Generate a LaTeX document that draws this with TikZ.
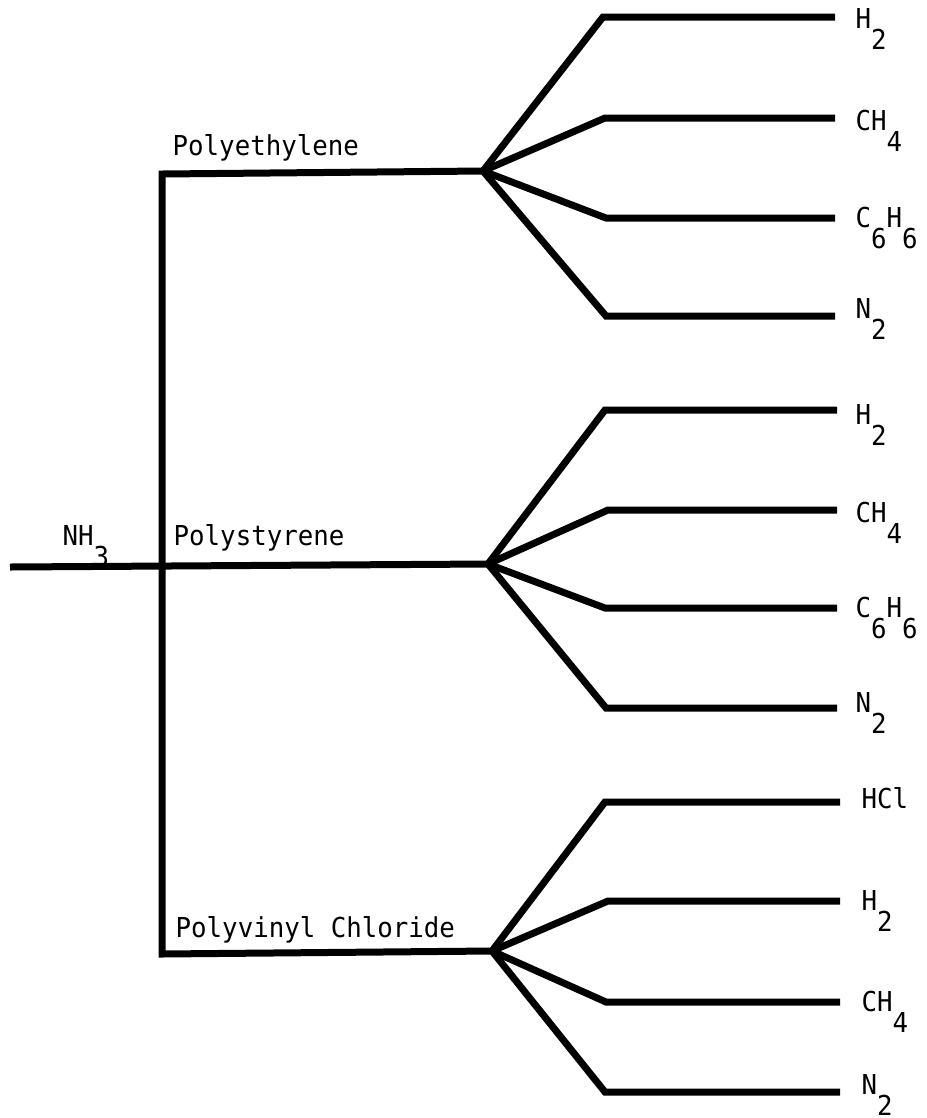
\documentclass[tikz,border=0pt]{standalone}
\usepackage{fontspec}
\setmonofont[FakeStretch=0.94]{DejaVu Sans Mono}
\usepackage{tikz}
\usetikzlibrary{positioning}

% typed subscript: full size digit set well below the line
\newcommand{\subnum}[1]{\raisebox{-2.1mm}{#1}}

\begin{document}
\begin{tikzpicture}[
      x=0.1mm, y=-0.1mm,
      line/.style={line width=0.7mm, black},
      lbl/.style={font=\ttfamily\fontsize{7.8}{9}\selectfont, inner sep=0pt, anchor=base west},
      gas/.style={lbl},
    ]
      \useasboundingbox (0,0) rectangle (927,1118);

      % trunk and the three polymer branches
      \coordinate (src) at (10,567);
      \coordinate (top) at (162,174);
      \coordinate (bot) at (162,954);
      \coordinate (pe)  at (483,171);
      \coordinate (ps)  at (488,564);
      \coordinate (pvc) at (492,951);

      \node[lbl] (nh3)  at (62,545)  {NH\subnum{3}};
      \node[lbl] (lpe)  at (172,155) {Polyethylene};
      \node[lbl] (lps)  at (173,545) {Polystyrene};
      \node[lbl] (lpvc) at (175,937) {Polyvinyl Chloride};

      % polyethylene products
      \coordinate (k11) at (603,17);   \coordinate (e11) at (835,17);
      \coordinate (k12) at (605,118);  \coordinate (e12) at (835,118);
      \coordinate (k13) at (606,218);  \coordinate (e13) at (835,218);
      \coordinate (k14) at (606,316);  \coordinate (e14) at (835,316);

      % polystyrene products
      \coordinate (k21) at (605,410);  \coordinate (e21) at (837,410);
      \coordinate (k22) at (608,510);  \coordinate (e22) at (837,510);
      \coordinate (k23) at (605,608);  \coordinate (e23) at (837,608);
      \coordinate (k24) at (606,708);  \coordinate (e24) at (837,708);

      % polyvinyl chloride products
      \coordinate (k31) at (605,802);  \coordinate (e31) at (840,802);
      \coordinate (k32) at (608,901);  \coordinate (e32) at (840,901);
      \coordinate (k33) at (606,1002); \coordinate (e33) at (840,1002);
      \coordinate (k34) at (605,1092); \coordinate (e34) at (840,1092);

      \node[gas] (g11) at ([xshift=2mm, yshift=-1.1mm]e11) {H\subnum{2}};
      \node[gas] (g12) at ([xshift=2mm, yshift=-1.2mm]e12) {CH\subnum{4}};
      \node[gas] (g13) at ([xshift=2mm, yshift=-0.9mm]e13) {C\subnum{6}H\subnum{6}};
      \node[gas] (g14) at ([xshift=2mm, yshift=-0.2mm]e14) {N\subnum{2}};

      \node[gas] (g21) at ([xshift=1.8mm, yshift=-1.4mm]e21) {H\subnum{2}};
      \node[gas] (g22) at ([xshift=1.8mm, yshift=-1.2mm]e22) {CH\subnum{4}};
      \node[gas] (g23) at ([xshift=1.8mm, yshift=-0.9mm]e23) {C\subnum{6}H\subnum{6}};
      \node[gas] (g24) at ([xshift=1.8mm, yshift=-0.4mm]e24) {N\subnum{2}};

      \node[gas] (g31) at ([xshift=2.1mm, yshift=-0.6mm]e31) {HCl};
      \node[gas] (g32) at ([xshift=2.1mm, yshift=-0.9mm]e32) {H\subnum{2}};
      \node[gas] (g33) at ([xshift=2.1mm, yshift=-0.9mm]e33) {CH\subnum{4}};
      \node[gas] (g34) at ([xshift=2.1mm, yshift=-0.2mm]e34) {N\subnum{2}};

      % lines
      \draw[line] (pe) -- (top) -- (bot) -- (pvc);
      \draw[line] (src) -- (ps);

      \draw[line] (pe) -- (k11) -- (e11);
      \draw[line] (pe) -- (k12) -- (e12);
      \draw[line] (pe) -- (k13) -- (e13);
      \draw[line] (pe) -- (k14) -- (e14);

      \draw[line] (ps) -- (k21) -- (e21);
      \draw[line] (ps) -- (k22) -- (e22);
      \draw[line] (ps) -- (k23) -- (e23);
      \draw[line] (ps) -- (k24) -- (e24);

      \draw[line] (pvc) -- (k31) -- (e31);
      \draw[line] (pvc) -- (k32) -- (e32);
      \draw[line] (pvc) -- (k33) -- (e33);
      \draw[line] (pvc) -- (k34) -- (e34);

    \end{tikzpicture}
\end{document}
